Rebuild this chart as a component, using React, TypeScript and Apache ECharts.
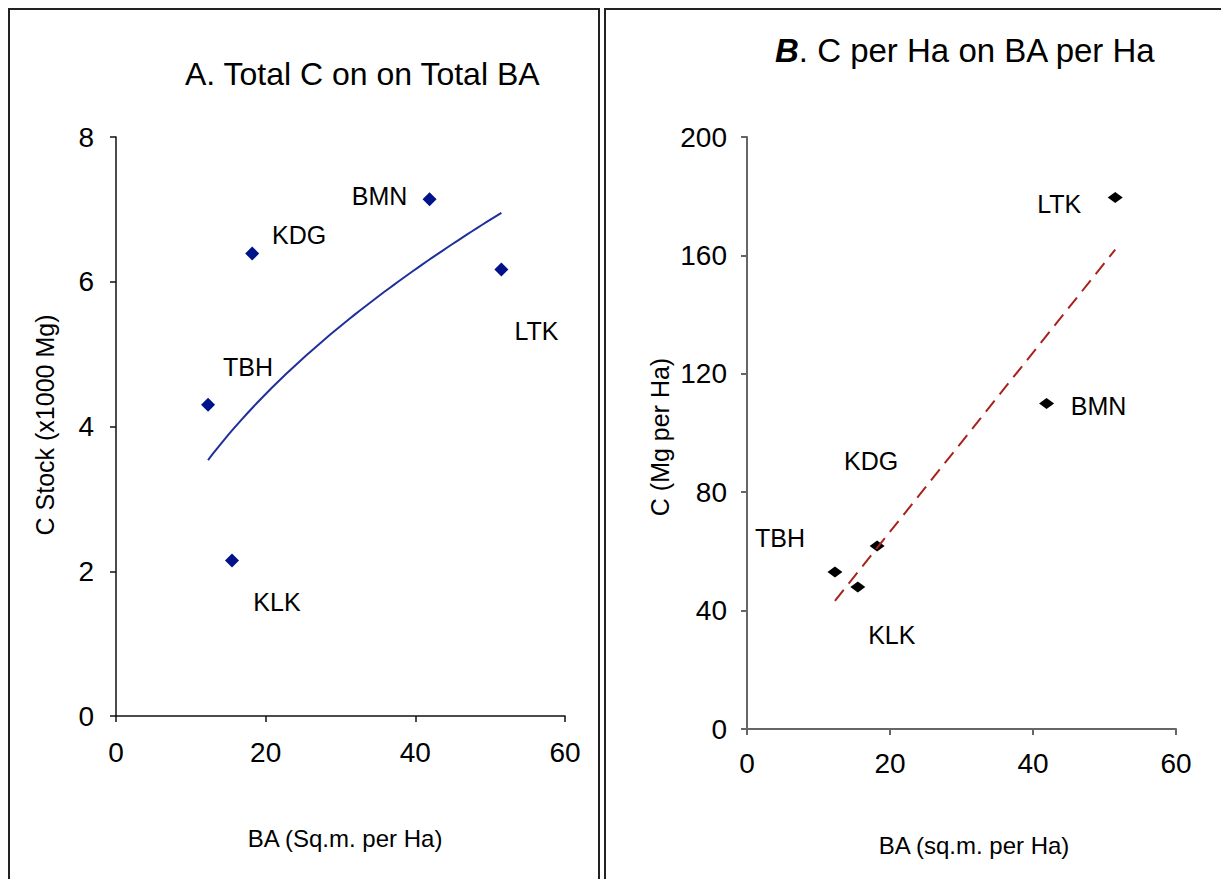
import { useEffect, useRef } from 'react';
import * as echarts from 'echarts';

// Forest sites and their measurements
const sites = ['TBH', 'KLK', 'KDG', 'BMN', 'LTK'];
const basalAreaPerHa = [12.3, 15.5, 18.2, 41.9, 51.5]; // sq.m. per Ha
const totalCarbonStock = [4.3, 2.15, 6.39, 7.14, 6.17]; // x1000 Mg
const carbonPerHa = [53, 48, 61.8, 110, 179.6]; // Mg per Ha

// Axis ranges
const baAxis = { min: 0, max: 60, interval: 20 };
const stockAxis = { min: 0, max: 8, interval: 2 };
const perHaAxis = { min: 0, max: 200, interval: 40 };

// Where each site name sits relative to its marker (px)
const stockLabelOffsets = [[40, -38], [45, 42], [47, -19], [-50, -3], [35, 62]];
const perHaLabelOffsets = [[-55, -34], [34, 48], [-6, -85], [52, 3], [-56, 7]];

const FONT = '"Liberation Sans", Arial, Helvetica, sans-serif';

// Least-squares fit of y = a * x^b (power trendline)
function powerFit(xs: number[], ys: number[]) {
  const lx = xs.map(Math.log);
  const ly = ys.map(Math.log);
  const n = xs.length;
  const mx = lx.reduce((s, v) => s + v, 0) / n;
  const my = ly.reduce((s, v) => s + v, 0) / n;
  let sxy = 0;
  let sxx = 0;
  for (let i = 0; i < n; i++) {
    sxy += (lx[i] - mx) * (ly[i] - my);
    sxx += (lx[i] - mx) ** 2;
  }
  const b = sxy / sxx;
  const a = Math.exp(my - b * mx);
  return (x: number) => a * Math.pow(x, b);
}

// Least-squares fit of y = m * x + c (linear trendline)
function linearFit(xs: number[], ys: number[]) {
  const n = xs.length;
  const mx = xs.reduce((s, v) => s + v, 0) / n;
  const my = ys.reduce((s, v) => s + v, 0) / n;
  let sxy = 0;
  let sxx = 0;
  for (let i = 0; i < n; i++) {
    sxy += (xs[i] - mx) * (ys[i] - my);
    sxx += (xs[i] - mx) ** 2;
  }
  const m = sxy / sxx;
  const c = my - m * mx;
  return (x: number) => m * x + c;
}

function sampleCurve(fn: (x: number) => number, x0: number, x1: number, steps: number) {
  const pts: number[][] = [];
  for (let i = 0; i <= steps; i++) {
    const x = x0 + ((x1 - x0) * i) / steps;
    pts.push([x, fn(x)]);
  }
  return pts;
}

function pointItems(ys: number[], offsets: number[][]) {
  return sites.map((name, i) => ({
    name,
    value: [basalAreaPerHa[i], ys[i]],
    label: { offset: offsets[i] },
  }));
}

export default function App() {
  const ref = useRef<HTMLDivElement>(null);

  useEffect(() => {
    if (!ref.current) return;
    const chart = echarts.init(ref.current, undefined, { renderer: 'svg' });

    const xMin = Math.min(...basalAreaPerHa);
    const xMax = Math.max(...basalAreaPerHa);
    const stockTrend = sampleCurve(powerFit(basalAreaPerHa, totalCarbonStock), xMin, xMax, 60);
    const perHaTrend = sampleCurve(linearFit(basalAreaPerHa, carbonPerHa), xMin, xMax, 1);

    const tickLabel = { fontFamily: FONT, fontSize: 28, color: '#000' };
    const pointLabel = {
      show: true,
      position: 'inside',
      formatter: '{b}',
      fontFamily: FONT,
      fontSize: 25,
      color: '#000',
      opacity: 1,
      textBorderWidth: 0,
      align: 'center',
      verticalAlign: 'middle',
    };

    const axisCommon = (color: string, width: number, margin: number) => ({
      type: 'value',
      axisLine: { show: true, onZero: false, lineStyle: { color, width } },
      axisTick: { show: true, length: 6, lineStyle: { color, width } },
      splitLine: { show: false },
      axisLabel: { ...tickLabel, margin },
    });

    chart.setOption({
      animation: false,
      backgroundColor: '#fff',
      title: [
        {
          text: 'A. Total C on on Total BA',
          left: 185,
          top: 58,
          padding: 0,
          textStyle: { fontFamily: FONT, fontSize: 32, fontWeight: 'normal', color: '#000' },
        },
        {
          text: '{b|B}. C per Ha on BA per Ha',
          left: 775,
          top: 34,
          padding: 0,
          textStyle: {
            fontFamily: FONT,
            fontSize: 33,
            fontWeight: 'normal',
            color: '#000',
            rich: {
              b: { fontFamily: FONT, fontSize: 33, fontWeight: 'bold', fontStyle: 'italic', color: '#000' },
            },
          },
        },
      ],
      grid: [
        { left: 116, top: 137, width: 449, height: 579 },
        { left: 747, top: 137, width: 429, height: 592 },
      ],
      xAxis: [
        { ...axisCommon('#111', 1.5, 22), gridIndex: 0, ...baAxis },
        { ...axisCommon('#666', 2, 20), gridIndex: 1, ...baAxis },
      ],
      yAxis: [
        { ...axisCommon('#111', 1.5, 22), gridIndex: 0, ...stockAxis },
        { ...axisCommon('#666', 2, 20), gridIndex: 1, ...perHaAxis },
      ],
      graphic: [
        {
          type: 'rect',
          silent: true,
          shape: { x: 9, y: 9, width: 590, height: 900 },
          style: { fill: 'none', stroke: '#222', lineWidth: 2 },
        },
        {
          type: 'rect',
          silent: true,
          shape: { x: 605, y: 9, width: 640, height: 900 },
          style: { fill: 'none', stroke: '#222', lineWidth: 2 },
        },
        {
          type: 'text',
          x: 345,
          y: 838,
          style: {
            text: 'BA (Sq.m. per Ha)',
            font: `24px ${FONT}`,
            fill: '#000',
            textAlign: 'center',
            textVerticalAlign: 'middle',
          },
        },
        {
          type: 'text',
          x: 45,
          y: 425,
          rotation: Math.PI / 2,
          style: {
            text: 'C Stock (x1000 Mg)',
            font: `25px ${FONT}`,
            fill: '#000',
            textAlign: 'center',
            textVerticalAlign: 'middle',
          },
        },
        {
          type: 'text',
          x: 974,
          y: 845,
          style: {
            text: 'BA (sq.m. per Ha)',
            font: `24px ${FONT}`,
            fill: '#000',
            textAlign: 'center',
            textVerticalAlign: 'middle',
          },
        },
        {
          type: 'text',
          x: 660,
          y: 437,
          rotation: Math.PI / 2,
          style: {
            text: 'C (Mg per Ha)',
            font: `25px ${FONT}`,
            fill: '#000',
            textAlign: 'center',
            textVerticalAlign: 'middle',
          },
        },
      ],
      series: [
        {
          name: 'Power trend',
          type: 'line',
          xAxisIndex: 0,
          yAxisIndex: 0,
          data: stockTrend,
          showSymbol: false,
          silent: true,
          lineStyle: { color: '#1f2f9c', width: 2 },
        },
        {
          name: 'Total C stock',
          type: 'scatter',
          xAxisIndex: 0,
          yAxisIndex: 0,
          symbol: 'diamond',
          symbolSize: [14, 14],
          itemStyle: { color: '#00138a', opacity: 1 },
          label: pointLabel,
          data: pointItems(totalCarbonStock, stockLabelOffsets),
        },
        {
          name: 'Linear trend',
          type: 'line',
          xAxisIndex: 1,
          yAxisIndex: 1,
          data: perHaTrend,
          showSymbol: false,
          silent: true,
          lineStyle: { color: '#a8221c', width: 2, type: [14, 8] },
        },
        {
          name: 'C per Ha',
          type: 'scatter',
          xAxisIndex: 1,
          yAxisIndex: 1,
          symbol: 'diamond',
          symbolSize: [15, 11],
          itemStyle: { color: '#000', opacity: 1 },
          label: pointLabel,
          data: pointItems(carbonPerHa, perHaLabelOffsets),
        },
      ],
    });

    return () => chart.dispose();
  }, []);

  return (
    <div
      ref={ref}
      style={{ position: 'absolute', left: 0, top: 0, width: 1221, height: 879 }}
    />
  );
}
